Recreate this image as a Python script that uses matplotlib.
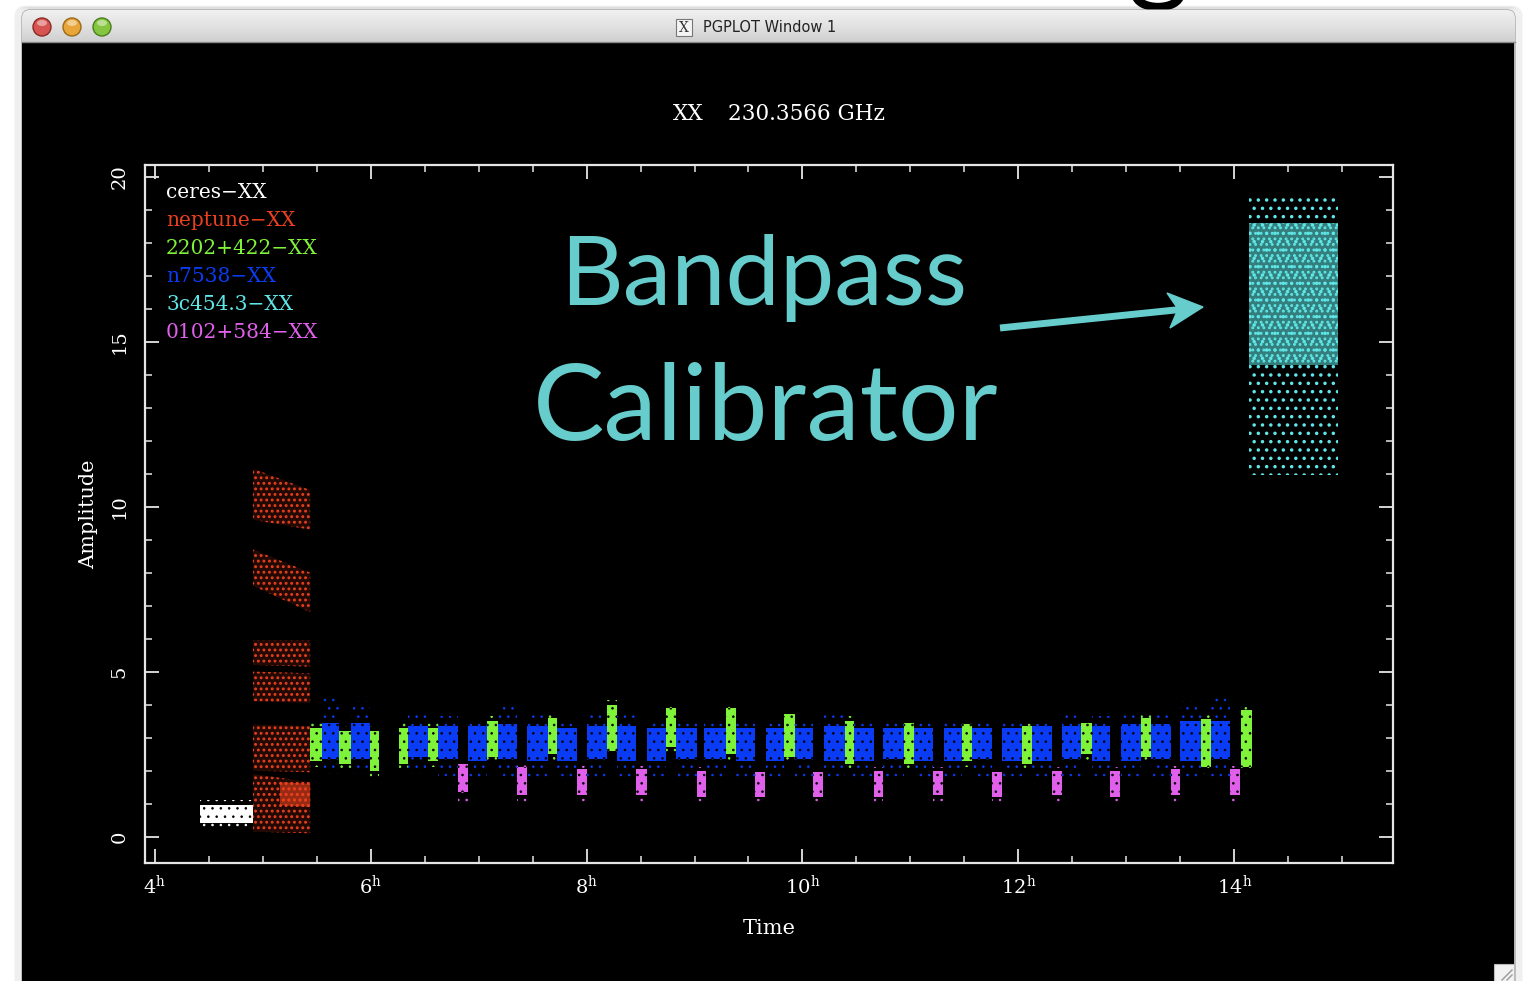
"""
PGPLOT amplitude vs time screenshot, with bandpass calibrator callout.
Writes out.png
"""

import numpy as np
import matplotlib.pyplot as plt
from matplotlib.colors import LinearSegmentedColormap, to_rgb
from matplotlib.patches import FancyBboxPatch, Rectangle, Circle, Ellipse, Arc, Polygon
from matplotlib.ticker import MultipleLocator, FuncFormatter

# --- Data (hours / amplitude) ---
labels = ['ceres-XX', 'neptune-XX', '2202+422-XX', 'n7538-XX', '3c454.3-XX', '0102+584-XX']
colors = ['#ffffff', '#e8401e', '#7ff23a', '#0b3cf5', '#5fe6e6', '#e060ec']

# ceres
ceres_start = [4.42]
ceres_end = [4.91]
ceres_lo = [0.42]
ceres_hi = [0.97]
ceres_tail_lo = [0.30]
ceres_tail_hi = [1.12]

# neptune: one scan, several baseline bands, amplitudes at scan start (a) and end (b)
nep_start = 4.91
nep_end = 5.44
nep_lo_a = [9.6, 7.6, 5.2, 4.1, 2.0, 0.15]
nep_hi_a = [11.15, 8.7, 5.95, 5.0, 3.4, 1.9]
nep_lo_b = [9.3, 6.8, 5.15, 4.05, 1.95, 0.1]
nep_hi_b = [10.5, 8.0, 5.95, 4.95, 3.35, 1.65]

# 2202+422 (phase calibrator)
g_start = [5.44, 5.71, 5.99, 6.26, 6.53, 7.08, 7.64, 8.19, 8.74, 9.29,
           9.83, 10.39, 10.94, 11.48, 12.03, 12.58, 13.14, 13.69, 14.06]
g_end = [5.55, 5.82, 6.08, 6.35, 6.62, 7.18, 7.73, 8.28, 8.83, 9.38,
         9.93, 10.48, 11.03, 11.57, 12.13, 12.68, 13.23, 13.78, 14.16]
g_lo = [2.3, 2.2, 2.0, 2.2, 2.3, 2.4, 2.5, 2.6, 2.7, 2.5,
        2.4, 2.2, 2.2, 2.3, 2.2, 2.5, 2.4, 2.1, 2.1]
g_hi = [3.3, 3.2, 3.2, 3.3, 3.3, 3.5, 3.6, 4.0, 3.9, 3.9,
        3.7, 3.5, 3.45, 3.4, 3.35, 3.45, 3.6, 3.55, 3.85]

# n7538 (target)
b_start = [5.55, 5.82, 6.35, 6.62, 6.90, 7.18, 7.45, 7.73, 8.00, 8.28,
           8.56, 8.83, 9.09, 9.38, 9.66, 9.93, 10.20, 10.47, 10.75, 11.03,
           11.31, 11.57, 11.85, 12.13, 12.40, 12.68, 12.95, 13.23, 13.50, 13.78]
b_end = [5.71, 5.99, 6.53, 6.81, 7.08, 7.36, 7.64, 7.91, 8.19, 8.46,
         8.74, 9.02, 9.29, 9.56, 9.83, 10.10, 10.39, 10.66, 10.94, 11.21,
         11.48, 11.76, 12.03, 12.31, 12.58, 12.85, 13.14, 13.41, 13.69, 13.96]
b_lo = [2.35, 2.35, 2.4, 2.35, 2.3, 2.35, 2.3, 2.3, 2.35, 2.3,
        2.3, 2.35, 2.35, 2.3, 2.3, 2.35, 2.3, 2.3, 2.35, 2.3,
        2.3, 2.35, 2.3, 2.3, 2.35, 2.3, 2.3, 2.35, 2.3, 2.35]
b_hi = [3.45, 3.45, 3.35, 3.35, 3.35, 3.4, 3.35, 3.3, 3.35, 3.35,
        3.3, 3.3, 3.3, 3.3, 3.3, 3.3, 3.35, 3.3, 3.3, 3.3,
        3.3, 3.3, 3.3, 3.35, 3.35, 3.35, 3.4, 3.4, 3.5, 3.5]
b_tail_lo = [1.9, 1.9, 1.9, 1.85, 1.8, 1.8, 1.8, 1.75, 1.8, 1.75,
             1.75, 1.7, 1.75, 1.7, 1.7, 1.7, 1.7, 1.75, 1.7, 1.7,
             1.7, 1.7, 1.75, 1.7, 1.7, 1.75, 1.7, 1.75, 1.8, 1.8]
b_tail_hi = [4.2, 4.1, 3.75, 3.65, 3.6, 4.0, 3.7, 3.5, 3.75, 3.7,
             3.6, 3.55, 3.5, 3.55, 3.6, 3.55, 3.7, 3.6, 3.55, 3.55,
             3.5, 3.6, 3.55, 3.6, 3.7, 3.65, 3.75, 3.8, 4.1, 4.2]

# 3c454.3 (bandpass calibrator)
c_start = [14.14]
c_end = [14.96]
c_lo = [14.3]
c_hi = [18.6]
c_tail_lo = [10.95]
c_tail_hi = [19.4]

# 0102+584
m_start = [6.81, 7.36, 7.91, 8.46, 9.02, 9.56, 10.10, 10.66, 11.21, 11.76,
           12.31, 12.85, 13.41, 13.96]
m_end = [6.90, 7.45, 8.00, 8.56, 9.11, 9.65, 10.19, 10.75, 11.30, 11.85,
         12.40, 12.94, 13.50, 14.05]
m_lo = [1.35, 1.25, 1.25, 1.25, 1.2, 1.2, 1.2, 1.2, 1.25, 1.2,
        1.25, 1.2, 1.25, 1.25]
m_hi = [2.2, 2.1, 2.05, 2.05, 2.0, 1.95, 1.95, 2.0, 2.0, 1.95,
        2.0, 2.0, 2.05, 2.05]
m_tail_lo = [1.05, 0.95, 0.95, 0.95, 0.9, 0.9, 0.9, 0.9, 0.95, 0.9,
             0.9, 0.9, 0.95, 0.95]

title_pol = 'XX'
title_freq = '230.3566 GHz'

W, H = 1528, 981
TEAL = '#66cccc'
PG_FONT = 'DejaVu Serif'
plt.rcParams['mathtext.fontset'] = 'custom'
plt.rcParams['mathtext.rm'] = PG_FONT
plt.rcParams['hatch.linewidth'] = 0.6

fig = plt.figure(figsize=(W / 100, H / 100), dpi=100)
fig.patch.set_facecolor('white')

# --- background: slide + mac window, pixel coordinates ---
bg = fig.add_axes([0, 0, 1, 1])
bg.axis('off')

# bottom of a slide-title glyph peeking out above the window
bg.add_patch(Arc((1158, -5), 44, 24, theta1=0, theta2=180, color='black', lw=6, zorder=0))

for i in range(8):
    bg.add_patch(FancyBboxPatch((22 - i, 10 - i * 0.5), 1493 + 2 * i, 1000,
                                boxstyle='round,pad=0,rounding_size=10',
                                fc='none', ec='black', lw=1.2, alpha=0.04, zorder=1))
win = FancyBboxPatch((22, 10), 1493, 1000, boxstyle='round,pad=0,rounding_size=8',
                     fc='#d4d4d4', ec='#a8a8a8', lw=1.0, zorder=2)
bg.add_patch(win)
bar_cmap = LinearSegmentedColormap.from_list('bar', ['#f0f0f0', '#e2e2e2', '#cfcfcf'])
grad = np.linspace(0, 1, 64).reshape(-1, 1)
im = bg.imshow(grad, cmap=bar_cmap, extent=(22, 1515, 42, 10), aspect='auto', zorder=3)
im.set_clip_path(win)
bg.set_xlim(0, W)
bg.set_ylim(H, 0)
bg.add_patch(Rectangle((22, 42), 1492, H - 42, fc='black', ec='none', zorder=4))
bg.plot([22, 1515], [42, 42], color='#8a8a8a', lw=1, zorder=5)

for x, c, e in [(42, '#d65550', '#8c2a26'), (72, '#e8a63a', '#9a6a15'), (102, '#86c540', '#4a7d1c')]:
    bg.add_patch(Circle((x, 27), 9, fc=c, ec=e, lw=1, zorder=5))
    bg.add_patch(Ellipse((x, 23), 10, 6, fc='white', ec='none', alpha=0.45, zorder=6))

bg.add_patch(Rectangle((676, 19), 16, 17, fc='#f4f4f4', ec='#777777', lw=0.8, zorder=5))
bg.text(684, 28, 'X', fontsize=10, family='DejaVu Serif', color='#333333',
        ha='center', va='center', zorder=6)
bg.text(703, 28, 'PGPLOT Window 1', fontsize=10.5, family='DejaVu Sans', color='#222222',
        ha='left', va='center', zorder=6)

# resize grip
bg.add_patch(Rectangle((1494, 964), 20, 18, fc='#f2f2f2', ec='#bbbbbb', lw=0.8, zorder=5))
bg.plot([1502, 1512], [980, 970], color='#999999', lw=1, zorder=6)
bg.plot([1507, 1512], [980, 975], color='#999999', lw=1, zorder=6)

# PGPLOT title
bg.text(673, 114, title_pol, fontsize=15.5, family=PG_FONT, color='white', ha='left', va='center', zorder=6)
bg.text(728, 114, title_freq, fontsize=15.5, family=PG_FONT, color='white', ha='left', va='center', zorder=6)

# --- plot panel ---
ax = fig.add_axes([145 / W, 1 - 863 / H, (1393 - 145) / W, (863 - 165) / H], zorder=2)
ax.set_facecolor('black')
ax.set_xlim(3.91, 15.47)
ax.set_ylim(-0.8, 20.35)


def scans(start, end, lo, hi, face, hatch, hatch_color):
    s = np.array(start)
    e = np.array(end)
    lo = np.array(lo)
    hi = np.array(hi)
    ax.bar(s, hi - lo, width=e - s, bottom=lo, align='edge', color=face,
           edgecolor=hatch_color, hatch=hatch, linewidth=0)


def dim(c, a):
    r, g, b = to_rgb(c)
    return (r, g, b, a)


cw, cr, cg, cb, cc, cm = colors

# ceres
scans(ceres_start, ceres_end, ceres_tail_lo, ceres_tail_hi, 'none', '..', cw)
scans(ceres_start, ceres_end, ceres_lo, ceres_hi, cw, '..', 'black')

# neptune bands (sloped), sparse points -> thicker dots
with plt.rc_context({'hatch.linewidth': 1.3}):
    for la, ha_, lb, hb in zip(nep_lo_a, nep_hi_a, nep_lo_b, nep_hi_b):
        ax.fill_between([nep_start, nep_end], [la, lb], [ha_, hb], facecolor=dim(cr, 0.15),
                        edgecolor=cr, hatch='...', linewidth=0)
    ax.fill_between([nep_start + 0.25, nep_end], [0.95, 0.9], [1.65, 1.6], facecolor=dim(cr, 0.6),
                    edgecolor=cr, hatch='...', linewidth=0)

# n7538
scans(b_start, b_end, b_tail_lo, b_tail_hi, 'none', '..', cb)
scans(b_start, b_end, b_lo, b_hi, cb, '..', 'black')

# 2202+422
scans(g_start, g_end, np.array(g_lo) - 0.2, np.array(g_hi) + 0.15, 'none', '..', cg)
scans(g_start, g_end, g_lo, g_hi, cg, '..', 'black')

# 0102+584
scans(m_start, m_end, m_tail_lo, np.array(m_hi) + 0.1, 'none', '..', cm)
scans(m_start, m_end, m_lo, m_hi, cm, '..', 'black')

# 3c454.3
with plt.rc_context({'hatch.linewidth': 1.3}):
    scans(c_start, c_end, c_tail_lo, c_tail_hi, 'none', '..', cc)
    scans(c_start, c_end, c_lo, c_hi, dim(cc, 0.55), '...', cc)

# axes styling
for s in ax.spines.values():
    s.set_color('#e6e6e6')
    s.set_linewidth(1.6)
ax.xaxis.set_major_locator(MultipleLocator(2))
ax.xaxis.set_minor_locator(MultipleLocator(0.5))
ax.yaxis.set_major_locator(MultipleLocator(5))
ax.yaxis.set_minor_locator(MultipleLocator(1))
ax.xaxis.set_major_formatter(FuncFormatter(lambda v, p: f'{v:.0f}$^{{\\rm h}}$'))
ax.yaxis.set_major_formatter(FuncFormatter(lambda v, p: f'{v:.0f}'))
ax.tick_params(which='both', direction='in', top=True, right=True, color='#e6e6e6',
               labelcolor='white', labelsize=14)
ax.tick_params(which='major', length=10, width=1.3)
ax.tick_params(which='minor', length=5, width=1.1)
ax.tick_params(axis='x', pad=8)
ax.tick_params(axis='y', pad=12, labelrotation=90)
for t in ax.get_xticklabels() + ax.get_yticklabels():
    t.set_family(PG_FONT)
for t in ax.get_yticklabels():
    t.set_va('center')

ax.set_xlabel('Time', fontsize=15, family=PG_FONT, color='white')
ax.set_ylabel('Amplitude', fontsize=15, family=PG_FONT, color='white')
ax.xaxis.set_label_coords(0.5, -0.080)
ax.yaxis.set_label_coords(-0.0377, 0.5)

# legend, PGPLOT style (plain coloured text)
for i, (lab, col) in enumerate(zip(labels, colors)):
    ax.text(166, 192 + 28 * i, lab.replace('-', '\u2212'), fontsize=14.5, family=PG_FONT,
            color=col, ha='left', va='center', transform=bg.transData)

# callout
ax.text(560, 305, 'Bandpass', fontsize=70, family='Lato', color=TEAL,
        ha='left', va='baseline', transform=bg.transData, zorder=5)
ax.text(533, 440, 'Calibrator', fontsize=77, family='Lato', color=TEAL,
        ha='left', va='baseline', transform=bg.transData, zorder=5)
ax.plot([1000, 1185], [328, 309], color=TEAL, lw=5, solid_capstyle='butt',
        transform=bg.transData, zorder=5)
ax.add_patch(Polygon([(1203, 307), (1167, 293), (1178, 309), (1170, 328)], closed=True,
                     fc=TEAL, ec=TEAL, lw=1, transform=bg.transData, zorder=5))

fig.savefig('out.png', dpi=100, facecolor=fig.get_facecolor())
